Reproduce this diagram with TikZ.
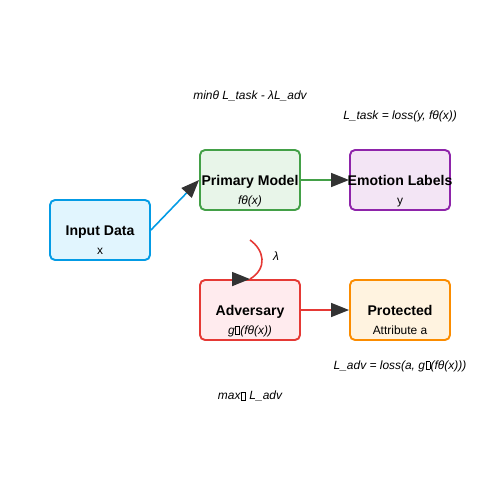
\documentclass[tikz,border=0pt]{standalone}
\usepackage{fontspec}
\setmainfont{Liberation Sans}
\usetikzlibrary{arrows.meta}

\definecolor{inpline}{HTML}{039BE5}
\definecolor{inpfill}{HTML}{E1F5FE}
\definecolor{primline}{HTML}{43A047}
\definecolor{primfill}{HTML}{E8F5E9}
\definecolor{emoline}{HTML}{8E24AA}
\definecolor{emofill}{HTML}{F3E5F5}
\definecolor{advline}{HTML}{E53935}
\definecolor{advfill}{HTML}{FFEBEE}
\definecolor{protline}{HTML}{FB8C00}
\definecolor{protfill}{HTML}{FFF3E0}
\definecolor{tipgray}{HTML}{333333}

% stand-in for the glyph the font could not draw
\newcommand{\nogl}{\kern.3pt{\setlength{\fboxsep}{0pt}\setlength{\fboxrule}{0.2pt}\fbox{\rule{0pt}{4.2pt}\rule{2.2pt}{0pt}}}\kern.3pt}

\tikzset{
    box/.style={draw, line width=1.1pt, rounded corners=0.1cm, minimum width=2cm, minimum height=1.2cm, inner sep=0pt},
    title/.style={font=\fontsize{8}{9.6}\selectfont\bfseries, inner sep=0pt, anchor=base},
    sub/.style={font=\fontsize{6.8}{8}\selectfont, inner sep=0pt, anchor=base},
    subf/.style={sub, font=\fontsize{6.8}{8}\selectfont\itshape},
    formula/.style={font=\fontsize{6.8}{8}\selectfont\itshape, inner sep=0pt},
    flow/.style={line width=0.9pt, -{Triangle[length=0.36cm,width=0.28cm,color=tipgray]}}
}

\begin{document}
\begin{tikzpicture}[x=0.02cm,y=-0.02cm]
    \useasboundingbox (0,0) rectangle (500,500);

    %Input
    \node[box, draw=inpline, fill=inpfill] (inp) at (100,230) {};
    \node[title] at (100,235) {Input Data};
    \node[sub] at (100,254) {x};

    %Primary model
    \node[box, draw=primline, fill=primfill] (prim) at (250,180) {};
    \node[title] at (250,185) {Primary Model};
    \node[subf] at (250,204) {fθ(x)};

    %Emotion labels
    \node[box, draw=emoline, fill=emofill] (emo) at (400,180) {};
    \node[title] at (400,185) {Emotion Labels};
    \node[sub] at (400,204) {y};

    %Adversary
    \node[box, draw=advline, fill=advfill] (adv) at (250,310) {};
    \node[title] at (250,315) {Adversary};
    \node[subf] at (250,334) {g\nogl(fθ(x))};

    %Protected
    \node[box, draw=protline, fill=protfill] (prot) at (400,310) {};
    \node[title] at (400,315) {Protected};
    \node[sub] at (400,334) {Attribute a};

    %Arrows
    \draw[flow, inpline] (inp.east) -- (prim.west);
    \draw[flow, primline] (prim.east) -- (emo.west);
    \draw[flow, advline] (adv.east) -- (prot.west);

    \coordinate (lamtop) at (250,240);
    \draw[advline, line width=0.9pt] (lamtop) .. controls (264,250) and (268,268) .. (adv.north);
    \draw[flow, advline] ([xshift=-1pt]adv.north) -- (adv.north);
    \node[formula] (lam) at (276,256) {λ};

    %Losses
    \node[formula] (objmin) at (250,96) {minθ L\_task - λL\_adv};
    \node[formula] (ltask) at (400,116) {L\_task = loss(y, fθ(x))};
    \node[formula] (ladv) at (400,366) {L\_adv = loss(a, g\nogl(fθ(x)))};
    \node[formula] (objmax) at (250,396) {max\nogl{} L\_adv};
\end{tikzpicture}
\end{document}
